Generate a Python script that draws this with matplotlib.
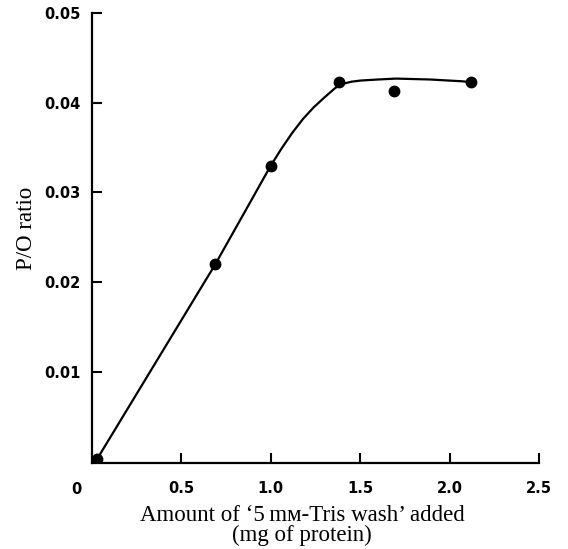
import matplotlib
matplotlib.use("Agg")
import matplotlib.pyplot as plt
from matplotlib.transforms import blended_transform_factory

# measured points
protein_mg = [0.03, 0.69, 1.00, 1.38, 1.69, 2.12]
po_ratio = [0.0003, 0.0220, 0.0330, 0.0423, 0.0413, 0.0423]

# hand-drawn curve
curve_x = [0.03, 0.69, 1.00, 1.06, 1.12, 1.18, 1.24, 1.30, 1.36, 1.40, 1.45, 1.50, 1.60, 1.70, 1.89, 2.07, 2.12]
curve_y = [0.0003, 0.0220, 0.0330, 0.0349, 0.03665, 0.0382, 0.0395, 0.0406, 0.04165, 0.0421, 0.04235, 0.04248, 0.0426, 0.0427, 0.0426, 0.0424, 0.0423]

x_ticks = [0.5, 1.0, 1.5, 2.0, 2.5]
y_ticks = [0.01, 0.02, 0.03, 0.04, 0.05]

tick_font = dict(family="DejaVu Sans", weight="bold", size=10.5)
serif = ["Liberation Serif", "DejaVu Serif"]

fig = plt.figure(figsize=(5.68, 5.49), dpi=100)
ax = fig.add_axes([0.162, 0.157, 0.787, 0.819])

ax.plot(curve_x, curve_y, color="black", lw=1.6, zorder=2,
        solid_joinstyle="round", antialiased=True)
ax.plot(protein_mg, po_ratio, "o", color="black", ms=7.5, zorder=3)

ax.set_xlim(0, 2.5)
ax.set_ylim(-0.00017, 0.05)
ax.set_xticks(x_ticks)
ax.set_xticklabels(["0.5", "1.0", "1.5", "2.0", "2.5"], fontdict=tick_font)
ax.set_yticks(y_ticks)
ax.set_yticklabels(["0.01", "0.02", "0.03", "0.04", "0.05"], fontdict=tick_font)
ax.tick_params(direction="in", length=7, width=1.5, pad=8)
ax.tick_params(axis="x", pad=13)

for side in ("top", "right"):
    ax.spines[side].set_visible(False)
for side in ("left", "bottom"):
    ax.spines[side].set_linewidth(1.6)

# shared origin label
trans = blended_transform_factory(ax.transData, ax.transAxes)
ax.text(-0.09, -0.043, "0", transform=trans, ha="center", va="top", **tick_font)

ax.set_ylabel("P/O ratio", family=serif, size=16.5)
ax.yaxis.set_label_coords(-0.123, 0.522)
ax.set_xlabel("Amount of \u20185\u2009m\u1d0d-Tris wash\u2019 added\n(mg of protein)",
              family=serif, size=16.5, linespacing=0.92)
ax.xaxis.set_label_coords(0.47, -0.093)

fig.savefig("out.png", dpi=100)
